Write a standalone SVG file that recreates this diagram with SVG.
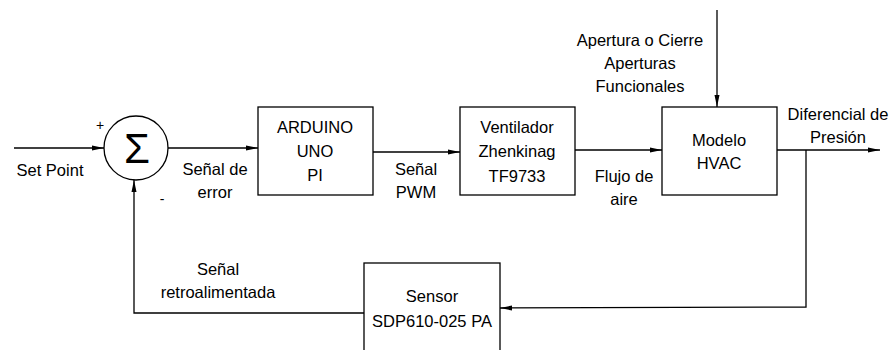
<svg xmlns="http://www.w3.org/2000/svg" width="896" height="350" viewBox="0 0 896 350">
<style>
.box{fill:#fff;stroke:#000;stroke-width:1.3}
.ln{fill:none;stroke:#000;stroke-width:1.3}
text{font-family:"Liberation Sans",Arial,sans-serif;font-size:16.5px;fill:#000;text-anchor:middle}
</style>
<defs>
<marker id="ah" viewBox="0 0 12 6" refX="12" refY="3" markerWidth="12" markerHeight="6" markerUnits="userSpaceOnUse" orient="auto">
<path d="M0,0.5 L12,3 L0,5.5 Z" fill="#000"/>
</marker>
</defs>
<rect width="896" height="350" fill="#fff"/>
<g id="connectors">
<line class="ln" x1="14" y1="148" x2="104" y2="148" marker-end="url(#ah)"/>
<line class="ln" x1="168" y1="148" x2="258" y2="148" marker-end="url(#ah)"/>
<line class="ln" x1="373" y1="152" x2="460" y2="152" marker-end="url(#ah)"/>
<line class="ln" x1="575" y1="150" x2="662" y2="150" marker-end="url(#ah)"/>
<line class="ln" x1="717" y1="10" x2="717" y2="107" marker-end="url(#ah)"/>
<line class="ln" x1="777" y1="150" x2="880" y2="150" marker-end="url(#ah)"/>
<polyline class="ln" points="806,150 806,307 500,308" marker-end="url(#ah)"/>
<polyline class="ln" points="364,313 134,313 134,180" marker-end="url(#ah)"/>
</g>
<g id="sum">
<circle class="box" cx="136" cy="148" r="32"/>
<text x="137" y="163" style="font-size:42px">Σ</text>
<text x="100" y="130" style="font-size:14px">+</text>
<text x="162" y="204" style="font-size:14px">-</text>
</g>
<g id="arduino">
<rect class="box" x="258" y="107" width="115" height="88"/>
<text x="315" y="133">ARDUINO</text>
<text x="315" y="157">UNO</text>
<text x="315" y="181">PI</text>
</g>
<g id="ventilador">
<rect class="box" x="460" y="107" width="115" height="88"/>
<text x="517" y="133">Ventilador</text>
<text x="517" y="157">Zhenkinag</text>
<text x="517" y="182">TF9733</text>
</g>
<g id="modelo">
<rect class="box" x="662" y="107" width="115" height="88"/>
<text x="719" y="146">Modelo</text>
<text x="719" y="169">HVAC</text>
</g>
<g id="sensor">
<rect class="box" x="364" y="263" width="136" height="100"/>
<text x="432" y="302">Sensor</text>
<text x="432" y="327">SDP610-025 PA</text>
</g>
<g id="labels">
<text x="50" y="176">Set Point</text>
<text x="215" y="175">Señal de</text>
<text x="215" y="198">error</text>
<text x="416" y="175">Señal</text>
<text x="416" y="198">PWM</text>
<text x="624" y="182">Flujo de</text>
<text x="624" y="205">aire</text>
<text x="640" y="46">Apertura o Cierre</text>
<text x="640" y="69">Aperturas</text>
<text x="640" y="92">Funcionales</text>
<text x="838" y="120">Diferencial de</text>
<text x="838" y="143">Presión</text>
<text x="218" y="275">Señal</text>
<text x="218" y="298">retroalimentada</text>
</g>
</svg>
